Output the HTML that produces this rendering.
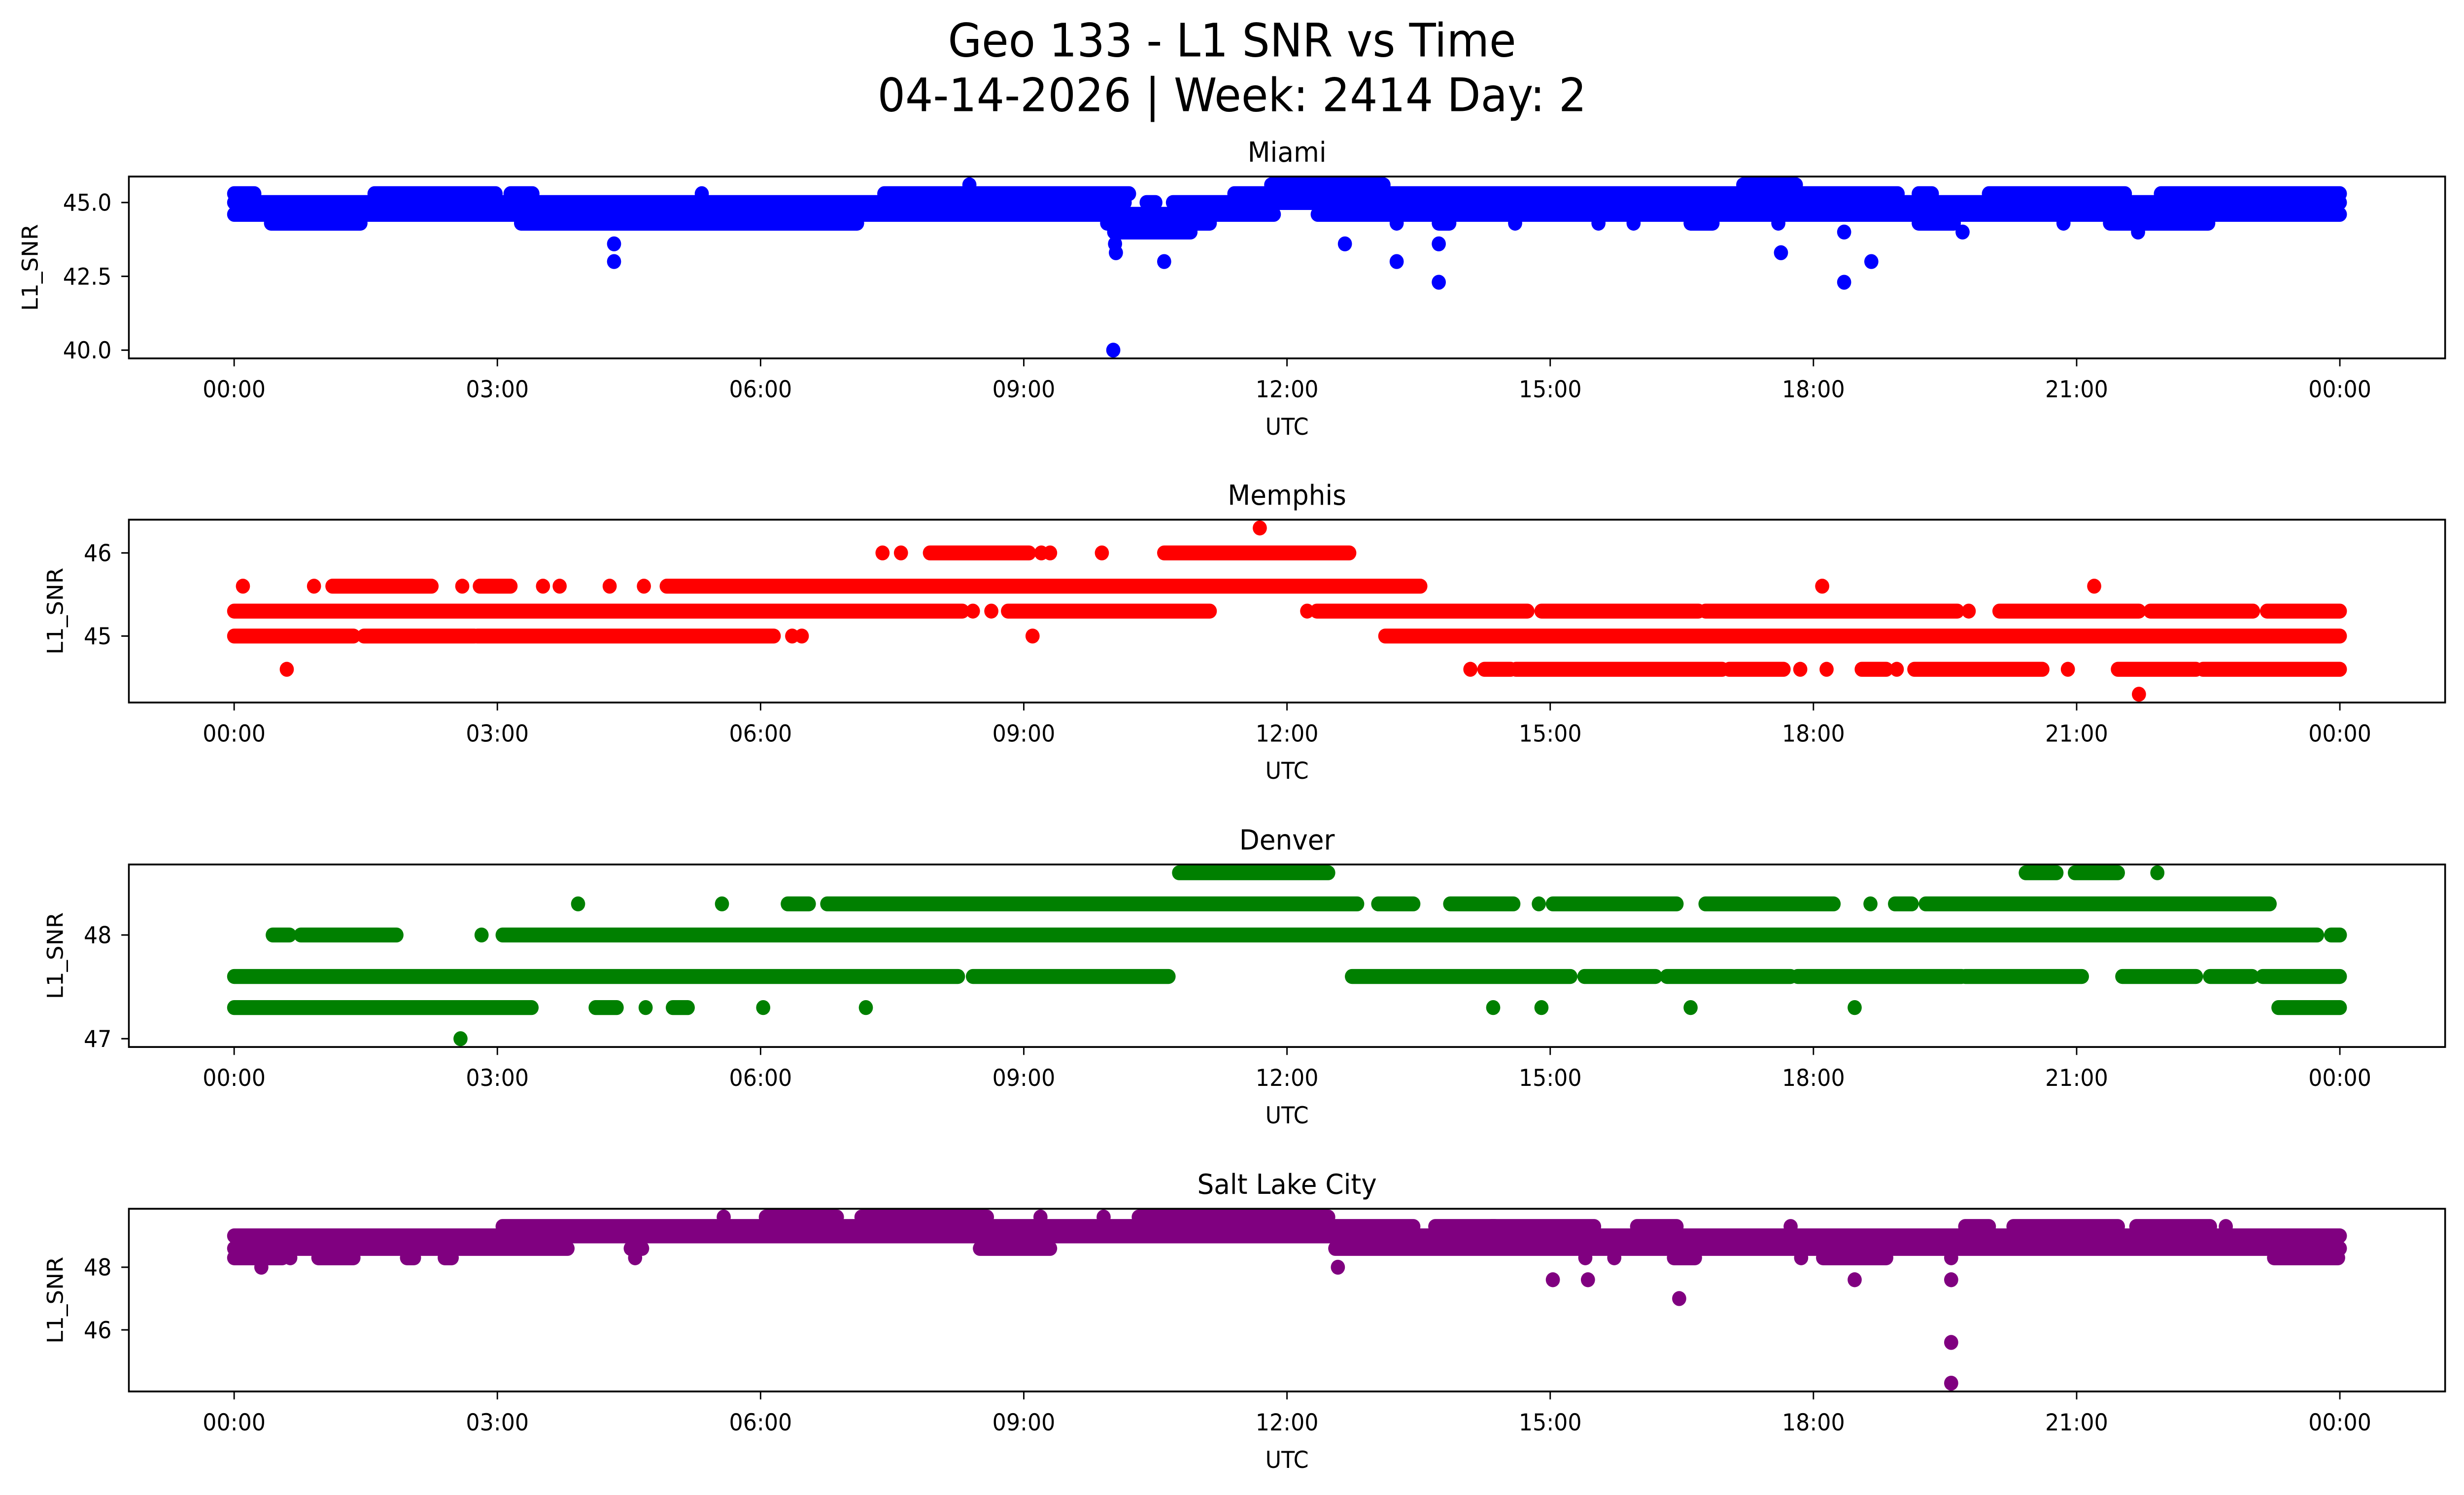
<!DOCTYPE html>
<html><head><meta charset="utf-8"><style>
html,body{margin:0;padding:0;background:#fff;overflow:hidden;width:100%;height:100%;}
svg{display:block;position:fixed;left:0;top:0;width:100%;height:100%;}
text{font-family:"DejaVu Sans","Liberation Sans",sans-serif;fill:#000;}
</style></head><body>
<svg id="fig" xmlns="http://www.w3.org/2000/svg" viewBox="0 0 1568 901" preserveAspectRatio="none">
<rect x="0" y="0" width="1568" height="901" fill="#fff"/>
<text x="784" y="34" font-size="27.8" text-anchor="middle">Geo 133 - L1 SNR vs Time</text>
<text x="784" y="67" font-size="27.8" text-anchor="middle">04-14-2026 | Week: 2414 Day: 2</text>
</svg>
<script>
// ---- Data: time ranges (hours UTC) where samples exist at each SNR level ----
const xTickHours = [0,3,6,9,12,15,18,21,24];
const xTickLabels = ["00:00","03:00","06:00","09:00","12:00","15:00","18:00","21:00","00:00"];

const miamiStart = [0,1.6,3.15,5.33,7.41,11.4,12.63,19.2,20.0,21.96, 0,10.4,10.7, 0,12.35, 8.38,11.82,17.2, 0.42,3.27,9.95,13.25,13.73,14.6,15.55,15.95,16.6,17.6,19.2,20.85,21.38, 10.03,18.35,19.7,21.7, 4.33,10.04,12.66,13.73, 17.63,10.05, 4.33,10.6,13.25,18.66, 13.73,18.35, 10.02];
const miamiEnd   = [0.23,2.98,3.4,5.33,10.2,12.7,18.96,19.35,21.55,24, 10.15,10.5,24, 11.85,24, 8.38,13.1,17.8, 1.44,7.1,11.12,13.25,13.85,14.6,15.55,15.95,16.85,17.6,19.6,20.85,22.5, 10.9,18.35,19.7,21.7, 4.33,10.04,12.66,13.73, 17.63,10.05, 4.33,10.6,13.25,18.66, 13.73,18.35, 10.02];
const miamiValue = [45.3,45.3,45.3,45.3,45.3,45.3,45.3,45.3,45.3,45.3, 45.0,45.0,45.0, 44.6,44.6, 45.6,45.6,45.6, 44.3,44.3,44.3,44.3,44.3,44.3,44.3,44.3,44.3,44.3,44.3,44.3,44.3, 44.0,44.0,44.0,44.0, 43.6,43.6,43.6,43.6, 43.3,43.3, 43.0,43.0,43.0,43.0, 42.3,42.3, 40.0];
const miamiTicks = [40.0,42.5,45.0];
const miamiTickLabels = ["40.0","42.5","45.0"];

const memphisStart = [11.69, 7.39,7.6,7.93,9.2,9.3,9.89,10.6, 0.1,0.91,1.12,2.6,2.8,3.52,3.71,4.28,4.67,4.93,18.1,21.2, 0,8.42,8.63,8.82,12.23,12.34,14.9,16.77,19.77,20.12,21.84,23.17, 0,1.48,2.77,6.36,6.47,9.1,13.12, 0.6,14.09,14.25,14.61,17.04,17.85,18.15,18.55,18.95,19.15,20.9,21.47,22.44, 21.71];
const memphisEnd   = [11.69, 7.39,7.6,9.06,9.2,9.3,9.89,12.71, 0.1,0.91,2.25,2.6,3.15,3.52,3.71,4.28,4.67,13.52,18.1,21.2, 8.3,8.42,8.63,11.12,12.23,14.74,16.69,19.64,19.77,21.71,23.01,24, 1.36,2.74,6.15,6.36,6.47,9.1,24, 0.6,14.09,14.55,16.96,17.66,17.85,18.15,18.83,18.95,20.61,20.9,22.36,24, 21.71];
const memphisValue = [46.3, 46,46,46,46,46,46,46, 45.6,45.6,45.6,45.6,45.6,45.6,45.6,45.6,45.6,45.6,45.6,45.6, 45.3,45.3,45.3,45.3,45.3,45.3,45.3,45.3,45.3,45.3,45.3,45.3, 45,45,45,45,45,45,45, 44.6,44.6,44.6,44.6,44.6,44.6,44.6,44.6,44.6,44.6,44.6,44.6,44.6, 44.3];
const memphisTicks = [45,46];
const memphisTickLabels = ["45","46"];

const denverStart = [10.77,20.42,20.98,21.92, 3.92,5.56,6.31,6.76,13.04,13.86,14.87,15.03,16.77,18.65,18.93,19.28, 0.44,0.76,2.82,3.06,23.9, 0,8.42,12.74,15.39,16.33,17.82,19.73,21.52,22.52,23.12, 0,4.12,4.69,5.0,6.03,7.2,14.35,14.9,16.6,18.47,23.3, 2.58];
const denverEnd   = [12.47,20.77,21.47,21.92, 3.92,5.56,6.55,12.8,13.44,14.58,14.87,16.44,18.23,18.65,19.12,23.2, 0.63,1.85,2.82,23.74,24, 8.25,10.65,15.23,16.2,17.74,19.69,21.06,22.36,23.0,24, 3.39,4.36,4.69,5.17,6.03,7.2,14.35,14.9,16.6,18.47,24, 2.58];
const denverValue = [48.6,48.6,48.6,48.6, 48.3,48.3,48.3,48.3,48.3,48.3,48.3,48.3,48.3,48.3,48.3,48.3, 48,48,48,48,48, 47.6,47.6,47.6,47.6,47.6,47.6,47.6,47.6,47.6,47.6, 47.3,47.3,47.3,47.3,47.3,47.3,47.3,47.3,47.3,47.3,47.3, 47.0];
const denverTicks = [47,48];
const denverTickLabels = ["47","48"];

const slcStart = [0, 3.06,13.69,14.33,15.99,17.74,19.73,20.28,21.68,22.7, 5.58,6.06,7.15,9.19,9.91,10.31, 0,4.52,8.5,12.55, 0,0.64,0.96,1.97,2.4,4.57,15.4,15.73,16.41,17.86,18.11,19.57,23.25, 0.31,12.58, 15.03,15.43,18.47,19.57, 16.47, 19.57, 19.57];
const slcEnd   = [24, 13.44,14.37,15.5,16.44,17.74,20.0,21.47,22.52,22.7, 5.58,6.87,8.58,9.19,9.91,12.47, 3.8,4.65,9.3,24, 0.55,0.64,1.36,2.05,2.48,4.57,15.4,15.73,16.65,17.86,18.83,19.57,23.98, 0.31,12.58, 15.03,15.43,18.47,19.57, 16.47, 19.57, 19.57];
const slcValue = [49.0, 49.3,49.3,49.3,49.3,49.3,49.3,49.3,49.3,49.3, 49.6,49.6,49.6,49.6,49.6,49.6, 48.6,48.6,48.6,48.6, 48.3,48.3,48.3,48.3,48.3,48.3,48.3,48.3,48.3,48.3,48.3,48.3,48.3, 48.0,48.0, 47.6,47.6,47.6,47.6, 47.0, 45.6, 44.3];
const slcTicks = [46,48];
const slcTickLabels = ["46","48"];

// ---- Rendering ----
const NS = "http://www.w3.org/2000/svg";
const svg = document.getElementById("fig");
const LEFT = 82, RIGHT = 1556, R = 4.5;
function mk(tag, attrs, parent) {
  const e = document.createElementNS(NS, tag);
  for (const k in attrs) e.setAttribute(k, attrs[k]);
  (parent || svg).appendChild(e);
  return e;
}
function xScale(h) {
  const lo = -1.2, hi = 25.2;
  return LEFT + (h - lo) / (hi - lo) * (RIGHT - LEFT);
}
function panel(key, title, top, bottom, color, starts, ends, vals, ticks, tickLabels, ylabelX) {
  const g = mk("g", {});
  
  
  const vmin = Math.min(...vals), vmax = Math.max(...vals);
  const pad = (vmax - vmin) * 0.05;
  const lo = vmin - pad, hi = vmax + pad;
  const yScale = v => bottom - (v - lo) / (hi - lo) * (bottom - top);

  const t = mk("text", {x: (LEFT + RIGHT) / 2, y: top - 9, "font-size": 16.7, "text-anchor": "middle"}, g);
  t.textContent = title;
  
  

  const marks = mk("g", {fill: color}, g);
  
  
  for (let i = 0; i < starts.length; i++) {
    const x0 = xScale(starts[i]), x1 = xScale(ends[i]), y = yScale(vals[i]);
    const m = mk("rect", {x: x0 - R, y: y - R, width: (x1 - x0) + 2 * R, height: 2 * R, rx: R, ry: R}, marks);
    
    
  }

  const frame = mk("rect", {x: LEFT, y: top, width: RIGHT - LEFT, height: bottom - top, fill: "none", stroke: "#000", "stroke-width": 1.1}, g);
  
  

  const xa = mk("g", {}, g);
  
  
  for (let i = 0; i < xTickHours.length; i++) {
    const x = xScale(xTickHours[i]);
    mk("line", {x1: x, x2: x, y1: bottom, y2: bottom + 4.8, stroke: "#000", "stroke-width": 0.9}, xa);
    const lt = mk("text", {x: x, y: bottom + 23.5, "font-size": 13.9, "text-anchor": "middle"}, xa);
    lt.textContent = xTickLabels[i];
    
    
  }
  const xl = mk("text", {x: (LEFT + RIGHT) / 2, y: bottom + 46, "font-size": 13.9, "text-anchor": "middle"}, g);
  xl.textContent = "UTC";
  
  

  const ya = mk("g", {}, g);
  
  
  for (let i = 0; i < ticks.length; i++) {
    const y = yScale(ticks[i]);
    mk("line", {x1: LEFT - 4.8, x2: LEFT, y1: y, y2: y, stroke: "#000", "stroke-width": 0.9}, ya);
    const lt = mk("text", {x: LEFT - 11, y: y + 5, "font-size": 13.9, "text-anchor": "end"}, ya);
    lt.textContent = tickLabels[i];
    
    
  }
  const cy = (top + bottom) / 2;
  const yl = mk("text", {x: ylabelX, y: cy, "font-size": 13.9, "text-anchor": "middle", transform: "rotate(-90 " + ylabelX + " " + cy + ")"}, g);
  yl.textContent = "L1_SNR";
  
  
}
panel("miami", "Miami", 106.4, 216, "#0000ff", miamiStart, miamiEnd, miamiValue, miamiTicks, miamiTickLabels, 24);
panel("memphis", "Memphis", 313.2, 423.4, "#ff0000", memphisStart, memphisEnd, memphisValue, memphisTicks, memphisTickLabels, 40);
panel("denver", "Denver", 521, 631, "#008000", denverStart, denverEnd, denverValue, denverTicks, denverTickLabels, 40);
panel("salt-lake-city", "Salt Lake City", 728.5, 838.6, "#800080", slcStart, slcEnd, slcValue, slcTicks, slcTickLabels, 40);
</script>
</body></html>
